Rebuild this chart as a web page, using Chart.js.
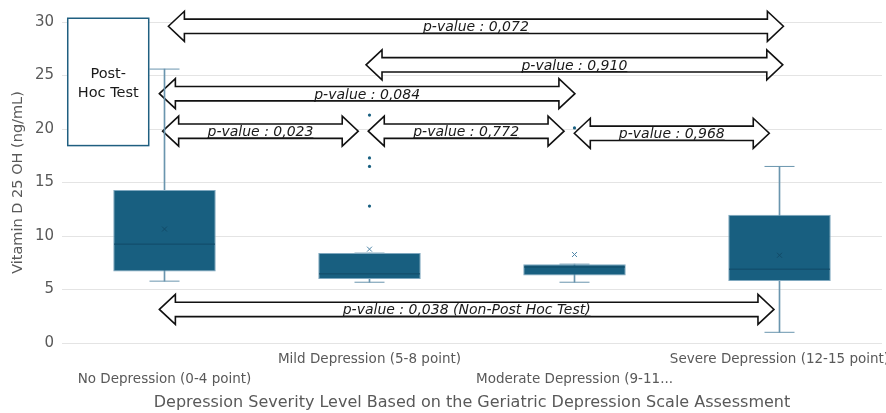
<!DOCTYPE html>
<html>
<head>
<meta charset="utf-8">
<script src="https://cdn.jsdelivr.net/npm/chart.js@4.4.0/dist/chart.umd.min.js"></script>
<style>
  html, body { margin: 0; padding: 0; background: #ffffff; }
  #wrap { width: 886px; height: 413px; position: relative; }
</style>
</head>
<body>
<div id="wrap"><canvas id="c" width="886" height="413"></canvas></div>
<script>
// ---- data ----
const categories = ['No Depression (0-4 point)', 'Mild Depression (5-8 point)', 'Moderate Depression (9-11 point)', 'Severe Depression (12-15 point)'];
const tickLabels = ['No Depression (0-4 point)', 'Mild Depression (5-8 point)', 'Moderate Depression (9-11...', 'Severe Depression (12-15 point)'];
const whiskerMin = [5.78, 5.68, 5.68, 1.0];
const q1 = [6.68, 5.99, 6.3, 5.8];
const median = [9.24, 6.46, 7.1, 6.9];
const q3 = [14.3, 8.4, 7.37, 11.98];
const whiskerMax = [25.6, 8.4, 7.37, 16.5];
const mean = [10.65, 8.77, 8.27, 8.2];
const outliers = [[], [21.3, 17.3, 16.5, 12.8], [20.1], []];
const yTicks = [0, 5, 10, 15, 20, 25, 30];

// p-value comparisons (category index from / to, value level)
const comparisons = [
  { from: 0.019, to: 3.019, level: 29.6, text: 'p-value : 0,072' },
  { from: 0.983, to: 3.016, level: 26.0, text: 'p-value : 0,910' },
  { from: -0.025, to: 2.002, level: 23.3, text: 'p-value : 0,084' },
  { from: -0.009, to: 0.945, level: 19.8, text: 'p-value : 0,023' },
  { from: 0.994, to: 1.949, level: 19.8, text: 'p-value : 0,772' },
  { from: 1.999, to: 2.95, level: 19.6, text: 'p-value : 0,968' },
  { from: -0.025, to: 2.973, level: 3.14, text: 'p-value : 0,038 (Non-Post Hoc Test)' }
];
const noteBox = { x1: -0.472, x2: -0.077, y1: 30.35, y2: 18.45, lines: ['Post-', 'Hoc Test'] };

// ---- derived datasets ----
const whiskerData = categories.map((c, i) => [whiskerMin[i], whiskerMax[i]]);
const boxData = categories.map((c, i) => [q1[i], q3[i]]);
const capData = [];
categories.forEach((c, i) => { capData.push({ x: c, y: whiskerMin[i] }); capData.push({ x: c, y: whiskerMax[i] }); });
const medianData = categories.map((c, i) => ({ x: c, y: median[i] }));
const meanData = categories.map((c, i) => ({ x: c, y: mean[i] }));
const outlierData = [];
categories.forEach((c, i) => outliers[i].forEach(v => outlierData.push({ x: c, y: v })));

const FONT = '"DejaVu Sans", "Open Sans", sans-serif';

function drawArrow(ctx, x1, x2, yc) {
  const sh = 7.2, hh = 15, hl = 16;
  ctx.beginPath();
  ctx.moveTo(x1, yc);
  ctx.lineTo(x1 + hl, yc - hh);
  ctx.lineTo(x1 + hl, yc - sh);
  ctx.lineTo(x2 - hl, yc - sh);
  ctx.lineTo(x2 - hl, yc - hh);
  ctx.lineTo(x2, yc);
  ctx.lineTo(x2 - hl, yc + hh);
  ctx.lineTo(x2 - hl, yc + sh);
  ctx.lineTo(x1 + hl, yc + sh);
  ctx.lineTo(x1 + hl, yc + hh);
  ctx.closePath();
  ctx.fillStyle = '#ffffff';
  ctx.fill();
  ctx.lineWidth = 1.6;
  ctx.strokeStyle = '#111111';
  ctx.lineJoin = 'miter';
  ctx.stroke();
}

const annotations = {
  id: 'annotations',
  beforeDatasetsDraw(chart) {
    const { ctx, scales: { x, y } } = chart;
    ctx.save();
    comparisons.forEach(cmp => {
      const x1 = x.getPixelForValue(cmp.from);
      const x2 = x.getPixelForValue(cmp.to);
      const yc = y.getPixelForValue(cmp.level);
      drawArrow(ctx, x1, x2, yc);
      ctx.font = 'italic 14px ' + FONT;
      ctx.fillStyle = '#1a1a1a';
      ctx.textAlign = 'center';
      ctx.textBaseline = 'alphabetic';
      const cx = (x1 + x2) / 2;
      const by = yc + 5;
      ctx.fillText(cmp.text, cx, by);
      const w = ctx.measureText(cmp.text).width;
      ctx.beginPath();
      ctx.moveTo(cx - w / 2, by + 1.8);
      ctx.lineTo(cx + w / 2, by + 1.8);
      ctx.lineWidth = 1;
      ctx.strokeStyle = '#1a1a1a';
      ctx.stroke();
    });
    ctx.restore();
  },
  afterDraw(chart) {
    const { ctx, scales: { x, y } } = chart;
    ctx.save();
    const bx1 = x.getPixelForValue(noteBox.x1), bx2 = x.getPixelForValue(noteBox.x2);
    const by1 = y.getPixelForValue(noteBox.y1), by2 = y.getPixelForValue(noteBox.y2);
    ctx.fillStyle = '#ffffff';
    ctx.fillRect(bx1, by1, bx2 - bx1, by2 - by1);
    ctx.lineWidth = 1.5;
    ctx.strokeStyle = '#1f5f80';
    ctx.strokeRect(bx1, by1, bx2 - bx1, by2 - by1);
    ctx.font = '14.5px ' + FONT;
    ctx.fillStyle = '#1a1a1a';
    ctx.textAlign = 'center';
    ctx.textBaseline = 'middle';
    const cx = (bx1 + bx2) / 2, cy = (by1 + by2) / 2;
    ctx.fillText(noteBox.lines[0], cx, cy - 8);
    ctx.fillText(noteBox.lines[1], cx, cy + 11);
    ctx.restore();
  }
};

new Chart(document.getElementById('c'), {
  type: 'bar',
  data: {
    labels: categories,
    datasets: [
      { type: 'bar', label: 'whisker', data: whiskerData, backgroundColor: '#6a95ae', borderWidth: 0, barThickness: 1, grouped: false, order: 5 },
      { type: 'line', label: 'caps', data: capData, showLine: false, pointStyle: 'line', pointRadius: 15, pointBorderWidth: 1, pointBorderColor: '#6a95ae', pointBackgroundColor: '#6a95ae', order: 4 },
      { type: 'bar', label: 'box', data: boxData, backgroundColor: '#185f80', borderColor: '#7fa8bf', borderWidth: 1, borderSkipped: false, barPercentage: 0.5, categoryPercentage: 1, grouped: false, order: 3 },
      { type: 'line', label: 'median', data: medianData, showLine: false, pointStyle: 'line', pointRadius: 50.5, pointBorderWidth: 1, pointBorderColor: '#114a66', order: 2 },
      { type: 'line', label: 'mean', data: meanData, showLine: false, pointStyle: 'crossRot', pointRadius: 3.5, pointBorderWidth: 1, pointBorderColor: ['#124b68', '#4f86a8', '#4f86a8', '#124b68'], order: 1 },
      { type: 'line', label: 'outliers', data: outlierData, showLine: false, pointStyle: 'circle', pointRadius: 1.6, pointBorderWidth: 0, pointBackgroundColor: '#185f80', order: 0 }
    ]
  },
  options: {
    responsive: false,
    animation: false,
    events: [],
    layout: { autoPadding: false, padding: { top: 22, right: 4, left: 0, bottom: 0 } },
    plugins: { legend: { display: false }, tooltip: { enabled: false } },
    scales: {
      x: {
        type: 'category',
        grid: { display: false },
        border: { display: false },
        ticks: {
          color: '#595959',
          font: { family: FONT, size: 13.5, lineHeight: 1.5 },
          padding: -2,
          maxRotation: 0,
          autoSkip: false,
          callback: (v, i) => (i % 2 === 0 ? ['', tickLabels[i]] : [tickLabels[i], ''])
        },
        title: {
          display: true,
          text: 'Depression Severity Level Based on the Geriatric Depression Scale Assessment',
          color: '#595959',
          font: { family: FONT, size: 16 },
          padding: { top: 0, bottom: 1 }
        },
        afterFit: (s) => { s.height = 70; s.paddingLeft = 0; s.paddingRight = 0; }
      },
      y: {
        min: 0, max: 30,
        afterBuildTicks: (s) => { s.ticks = yTicks.map(v => ({ value: v })); },
        grid: { color: '#e4e4e4', drawTicks: false, lineWidth: 1 },
        border: { display: false },
        ticks: { color: '#595959', font: { family: FONT, size: 15 }, padding: 8 },
        title: {
          display: true,
          text: 'Vitamin D 25 OH (ng/mL)',
          color: '#595959',
          font: { family: FONT, size: 14.5 },
          padding: { top: 10, bottom: 0 }
        },
        afterFit: (s) => { s.width = 62; s.paddingTop = 0; s.paddingBottom = 0; }
      }
    }
  },
  plugins: [annotations]
});
</script>
</body>
</html>
